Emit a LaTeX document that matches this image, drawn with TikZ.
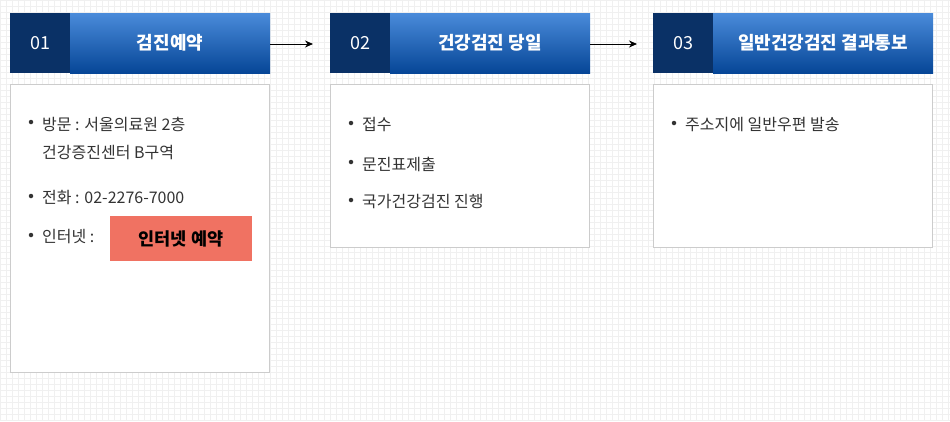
\documentclass[tikz,border=0pt]{standalone}
\usepackage{fontspec}
\setmainfont{Noto Sans CJK KR}
\usetikzlibrary{arrows.meta}
\definecolor{gridc}{HTML}{F0F0F0}
\definecolor{hdtop}{HTML}{4A8BDA}
\definecolor{hdbot}{HTML}{064697}
\definecolor{hddark}{HTML}{0A3166}
\definecolor{boxline}{HTML}{CCCCCC}
\definecolor{txt}{HTML}{333333}
\definecolor{btn}{HTML}{F07262}
\tikzset{
  hdlight/.style={top color=hdtop, bottom color=hdbot, draw=none, minimum height=60pt, inner sep=0pt, text=white, font=\fontsize{18}{20}\selectfont\bfseries},
  hdnum/.style={fill=hddark, draw=none, minimum width=60pt, minimum height=60pt, inner sep=0pt, text=white, font=\fontsize{18}{20}\selectfont},
  panel/.style={draw=boxline, fill=white, line width=1pt},
  item/.style={anchor=west, inner sep=0pt, text=txt, font=\fontsize{16}{18}\selectfont},
  dot/.style={circle, fill=txt, inner sep=0pt, minimum size=4.5pt},
  flow/.style={-{Stealth[length=8pt,width=7pt]}, line width=1pt, black},
  btnstyle/.style={fill=btn, draw=none, minimum width=142pt, minimum height=45pt, inner sep=0pt, font=\fontsize{17.5}{19}\selectfont\bfseries}
}
\begin{document}
\begin{tikzpicture}[x=1pt,y=-1pt]
\useasboundingbox (0,0) rectangle (950,421);
\fill[white] (0,0) rectangle (950,421);
\foreach \gx in {0,6,...,948} {\draw[gridc, line width=0.8pt] (\gx,0) -- (\gx,421);}
\foreach \gy in {0,6,...,420} {\draw[gridc, line width=0.8pt] (0,\gy) -- (950,\gy);}
% headers
\node[hdnum] (n1) at (40,43) {01};
\node[hdlight, minimum width=200pt] (h1) at (170,43) {검진예약};
\node[hdnum] (n2) at (360,43) {02};
\node[hdlight, minimum width=200pt] (h2) at (490,43) {건강검진 당일};
\node[hdnum] (n3) at (683,43) {03};
\node[hdlight, minimum width=220pt] (h3) at (823,43) {일반건강검진 결과통보};
% arrows
\coordinate (a1) at (313,44);
\coordinate (a2) at (637,44);
\draw[flow] (h1.east |- a1) -- (a1);
\draw[flow] (h2.east |- a2) -- (a2);
% panels
\draw[panel] (10.5,84.5) rectangle (269.5,372.5);
\draw[panel] (330.5,84.5) rectangle (589.5,247.5);
\draw[panel] (653.5,84.5) rectangle (932.5,247.5);
% panel 1
\node[dot] (d1) at (31,122) {};
\node[item] (t1) at (42,124) {방문 : 서울의료원 2층};
\node[item] (t1b) at (42,153) {건강증진센터 B구역};
\node[dot] (d2) at (31,196) {};
\node[item] (t2) at (42,198) {전화 : 02-2276-7000};
\node[dot] (d3) at (31,235) {};
\node[item] (t3) at (42,237) {인터넷 :};
\node[btnstyle] (b1) at (181,238.5) {인터넷 예약};
% panel 2
\node[dot] (e1) at (351,123) {};
\node[item] (u1) at (362,125) {접수};
\node[dot] (e2) at (351,162) {};
\node[item] (u2) at (362,164) {문진표제출};
\node[dot] (e3) at (351,200) {};
\node[item] (u3) at (362,202) {국가건강검진 진행};
% panel 3
\node[dot] (f1) at (674,123) {};
\node[item] (v1) at (685,125) {주소지에 일반우편 발송};
\end{tikzpicture}
\end{document}
